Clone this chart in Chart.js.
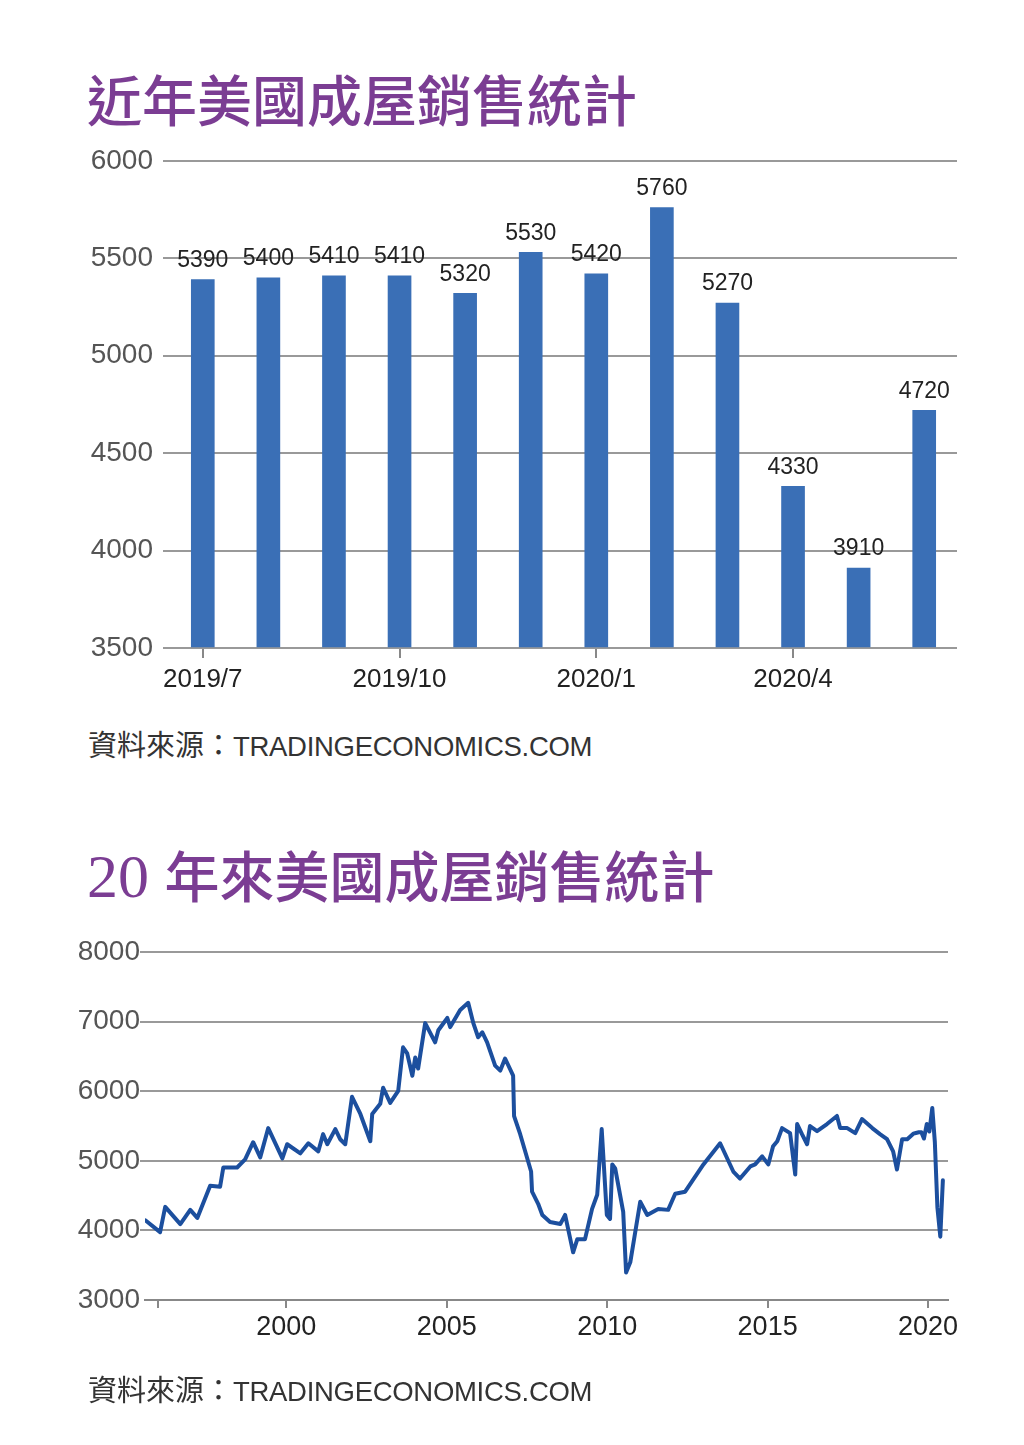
<!DOCTYPE html>
<html>
<head>
<meta charset="utf-8">
<script src="https://cdn.jsdelivr.net/npm/chart.js@4.4.1/dist/chart.umd.min.js"></script>
<style>
  html, body { margin:0; padding:0; background:#fff; }
  body { width:1024px; height:1445px; position:relative; overflow:hidden; }
  .title { position:absolute; left:87px; color:#7b3d93; font-family:"Liberation Serif","Noto Sans CJK TC",serif; font-size:55px; line-height:55px; font-weight:500; white-space:nowrap; }
  .title .cjk { font-family:"Noto Sans CJK TC",sans-serif; }
  .title .num { font-family:"Liberation Serif",serif; font-size:62px; font-weight:400; }
  .src { position:absolute; left:88px; color:#333; white-space:nowrap; line-height:30px; }
  .src .c { font-family:"Noto Sans CJK TC",sans-serif; font-size:29px; }
  .src .l { font-family:"Liberation Sans",Arial,sans-serif; font-size:27.5px; letter-spacing:-0.3px; }
  .box { position:absolute; left:0; width:1000px; }
</style>
</head>
<body>
<div class="title" style="top:70px"><span class="cjk">近年美國成屋銷售統計</span></div>
<div class="box" style="top:134px;height:566px"><canvas id="c1"></canvas></div>
<div class="src" style="top:728px"><span class="c">資料來源：</span><span class="l">TRADINGECONOMICS.COM</span></div>

<div class="title" style="top:846px"><span class="num">20 </span><span class="cjk">年來美國成屋銷售統計</span></div>
<div class="box" style="top:930px;height:440px"><canvas id="c2"></canvas></div>
<div class="src" style="top:1373px"><span class="c">資料來源：</span><span class="l">TRADINGECONOMICS.COM</span></div>

<script>
// ---- Data: recent monthly existing home sales (thousands, SAAR) ----
const barLabels = ['2019/7','2019/8','2019/9','2019/10','2019/11','2019/12','2020/1','2020/2','2020/3','2020/4','2020/5','2020/6'];
const barValues = [5390, 5400, 5410, 5410, 5320, 5530, 5420, 5760, 5270, 4330, 3910, 4720];
const barYTicks = [3500, 4000, 4500, 5000, 5500, 6000];

// ---- Data: 20-year history (decimal year, value) ----
const lineYears = [1995.61,1996.07,1996.23,1996.70,1997.01,1997.23,1997.63,1997.94,1998.04,1998.47,1998.72,1998.97,1999.19,1999.44,1999.88,
  2000.03,2000.44,2000.69,2001.00,2001.15,2001.28,2001.53,2001.68,2001.84,2002.05,2002.31,2002.62,2002.68,2002.93,2003.02,2003.24,2003.49,
  2003.64,2003.77,2003.93,2004.02,2004.11,2004.33,2004.64,2004.74,2005.02,2005.11,2005.42,2005.67,2005.83,2005.98,2006.11,2006.26,2006.51,
  2006.67,2006.82,2007.07,2007.10,2007.29,2007.63,2007.66,2007.85,2007.98,2008.22,2008.54,2008.69,2008.94,2009.07,2009.31,2009.53,2009.69,
  2009.83,2009.99,2010.09,2010.16,2010.25,2010.50,2010.59,2010.72,2011.03,2011.25,2011.59,2011.90,2012.12,2012.43,2012.68,2013.00,2013.52,
  2013.93,2014.14,2014.46,2014.61,2014.83,2015.02,2015.17,2015.30,2015.45,2015.70,2015.86,2015.92,2016.07,2016.23,2016.32,2016.54,2016.85,
  2017.16,2017.26,2017.48,2017.73,2017.94,2018.26,2018.50,2018.72,2018.91,2019.03,2019.19,2019.35,2019.54,2019.62,2019.71,2019.79,2019.87,
  2019.96,2020.04,2020.13,2020.21,2020.29,2020.38,2020.46];
const lineValues = [4145,3975,4338,4091,4295,4179,4643,4628,4904,4904,5020,5267,5049,5470,5035,
  5238,5107,5252,5136,5383,5238,5455,5310,5238,5920,5673,5281,5673,5818,6050,5832,6006,
  6630,6542,6223,6484,6325,6978,6702,6876,7052,6921,7168,7270,6978,6775,6847,6702,6368,
  6296,6470,6223,5643,5382,4846,4556,4382,4222,4120,4091,4222,3685,3874,3874,4309,4512,
  5456,4222,4164,4948,4890,4266,3396,3541,4411,4222,4309,4295,4527,4556,4730,4948,5252,
  4846,4745,4919,4948,5064,4948,5209,5281,5470,5397,4802,5528,5383,5238,5499,5426,5528,
  5644,5470,5470,5397,5600,5470,5383,5310,5136,4875,5310,5310,5390,5400,5410,5410,5320,
  5530,5420,5760,5270,4330,3910,4720];
const lineXTicks = [1996, 2000, 2005, 2010, 2015, 2020];
const lineYTicks = [3000, 4000, 5000, 6000, 7000, 8000];

const SANS = '"Liberation Sans", Arial, sans-serif';

const valueLabels = {
  id: 'valueLabels',
  afterDatasetsDraw(chart) {
    const ctx = chart.ctx;
    const meta = chart.getDatasetMeta(0);
    ctx.save();
    ctx.font = '23px ' + SANS;
    ctx.fillStyle = '#222';
    ctx.textAlign = 'center';
    ctx.textBaseline = 'middle';
    meta.data.forEach((bar, i) => {
      ctx.fillText(String(barValues[i]), bar.x, bar.y - 19);
    });
    ctx.restore();
  }
};

new Chart(document.getElementById('c1'), {
  type: 'bar',
  data: {
    labels: barLabels,
    datasets: [{ data: barValues, backgroundColor: '#3a6fb6', borderWidth: 0, barThickness: 23, base: 3500 }]
  },
  options: {
    responsive: true, maintainAspectRatio: false, animation: false,
    layout: { padding: { left: 0, top: 14, right: 43, bottom: 0 } },
    plugins: { legend: { display: false }, tooltip: { enabled: false } },
    scales: {
      x: {
        offset: true,
        afterFit(s) { s.height = 52; },
        grid: { drawOnChartArea: false, offset: false, tickLength: 10, lineWidth: 2,
                color: c => (c.index % 3 === 0 ? '#888' : 'rgba(0,0,0,0)') },
        border: { display: false },
        ticks: { autoSkip: false, maxRotation: 0, padding: 6, color: '#222', font: { family: SANS, size: 26 },
                 callback: (v, i) => (i % 3 === 0 ? barLabels[i] : '') }
      },
      y: {
        min: barYTicks[0], max: barYTicks[barYTicks.length - 1],
        afterFit(s) { s.width = 170; },
        afterBuildTicks(s) { s.ticks = barYTicks.map(v => ({ value: v })); },
        grid: { color: '#999', lineWidth: 2, tickLength: 7 },
        border: { display: false },
        ticks: { padding: 10, color: '#555', font: { family: SANS, size: 28 }, callback: v => String(v) }
      }
    }
  },
  plugins: [valueLabels]
});

new Chart(document.getElementById('c2'), {
  type: 'line',
  data: {
    datasets: [{
      data: lineYears.map((x, i) => ({ x: x, y: lineValues[i] })),
      borderColor: '#1c4f9e', borderWidth: 4, pointRadius: 0, tension: 0, fill: false,
      borderJoinStyle: 'round', borderCapStyle: 'round'
    }]
  },
  options: {
    responsive: true, maintainAspectRatio: false, animation: false,
    layout: { padding: { left: 0, top: 22, right: 52, bottom: 0 } },
    plugins: { legend: { display: false }, tooltip: { enabled: false } },
    scales: {
      x: {
        type: 'linear', min: 1995.6, max: 2020.62,
        afterFit(s) { s.height = 70; },
        afterBuildTicks(s) { s.ticks = lineXTicks.map(v => ({ value: v })); },
        grid: { drawOnChartArea: false, tickLength: 8, color: '#888', lineWidth: 2 },
        border: { display: true, color: '#888', width: 2 },
        ticks: { padding: 3, color: '#222', font: { family: SANS, size: 27 },
                 callback: v => (v === 1996 ? '' : String(v)) }
      },
      y: {
        min: 3000, max: 8000,
        afterFit(s) { s.width = 145; },
        afterBuildTicks(s) { s.ticks = lineYTicks.map(v => ({ value: v })); },
        grid: { color: c => (c.tick && c.tick.value === 3000 ? 'rgba(0,0,0,0)' : '#999'), lineWidth: 2, tickLength: 5 },
        border: { display: false },
        ticks: { padding: 0, color: '#555', font: { family: SANS, size: 28 }, callback: v => String(v) }
      }
    }
  }
});
</script>
</body>
</html>
